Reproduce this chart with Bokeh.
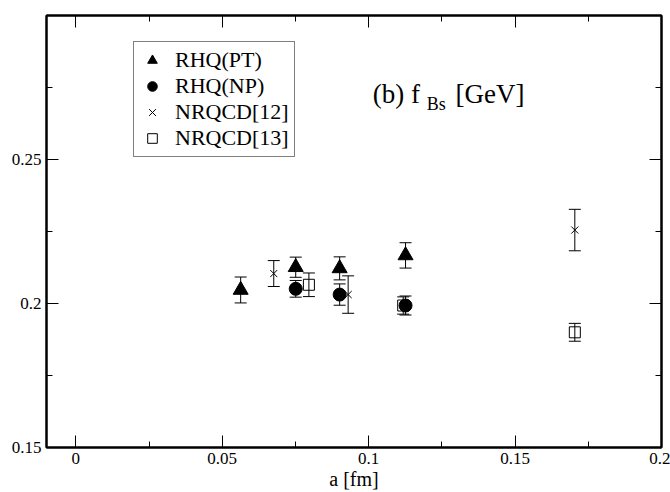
from bokeh.plotting import figure
from bokeh.models import (Range1d, SingleIntervalTicker, LinearAxis, CustomJSTickFormatter,
                          ColumnDataSource, Whisker, TeeHead, Legend, LegendItem, Label)
from bokeh.embed import file_html
from bokeh.resources import INLINE

# lattice spacing a [fm], f_Bs [GeV] and errors
rhq_pt_a = [0.0563, 0.0751, 0.0901, 0.1126]
rhq_pt_f = [0.2047, 0.2126, 0.2122, 0.2167]
rhq_pt_e = [0.0045, 0.0035, 0.0040, 0.0044]

rhq_np_a = [0.0751, 0.0901, 0.1126]
rhq_np_f = [0.2051, 0.2031, 0.1993]
rhq_np_e = [0.0029, 0.0037, 0.0033]

nrqcd12_a = [0.0676, 0.0930, 0.1704]
nrqcd12_f = [0.2104, 0.2031, 0.2255]
nrqcd12_e = [0.0045, 0.0065, 0.0072]

nrqcd13_a = [0.0796, 0.1118, 0.1704]
nrqcd13_f = [0.2065, 0.1993, 0.1900]
nrqcd13_e = [0.0041, 0.0030, 0.0031]

FONT = "Liberation Serif"

p = figure(width=670, height=492, output_backend="svg", toolbar_location=None,
           x_range=Range1d(-0.01, 0.2), y_range=Range1d(0.15, 0.3),
           min_border_left=46, min_border_right=9, min_border_top=15, min_border_bottom=45)
p.grid.visible = False
p.outline_line_color = "black"
p.outline_line_width = 2
p.background_fill_color = "white"

fmt = CustomJSTickFormatter(code="return String(Math.round(tick*1000)/1000);")


def style_axis(ax, labels=True):
    ax.axis_line_color = "black"
    ax.axis_line_width = 2
    ax.major_tick_in = 12
    ax.major_tick_out = 0
    ax.minor_tick_in = 6
    ax.minor_tick_out = 0
    ax.major_tick_line_color = "black"
    ax.minor_tick_line_color = "black"
    ax.major_tick_line_width = 1
    ax.minor_tick_line_width = 1
    if labels:
        ax.formatter = fmt
        ax.major_label_text_font = FONT
        ax.major_label_text_font_size = "17px"
        ax.major_label_text_color = "black"
        ax.major_label_standoff = 5
    else:
        ax.major_label_text_font_size = "0px"
        ax.major_label_standoff = 0


xt = SingleIntervalTicker(interval=0.05, num_minor_ticks=2)
yt = SingleIntervalTicker(interval=0.05, num_minor_ticks=2)
p.xaxis.ticker = xt
p.yaxis.ticker = yt
style_axis(p.xaxis[0])
style_axis(p.yaxis[0])
p.xaxis.axis_label = "a [fm]"
p.xaxis.axis_label_text_font = FONT
p.xaxis.axis_label_text_font_size = "20px"
p.xaxis.axis_label_text_font_style = "normal"
p.xaxis.axis_label_text_color = "black"
p.xaxis.axis_label_standoff = 1

top = LinearAxis(ticker=xt)
right = LinearAxis(ticker=yt)
style_axis(top, labels=False)
style_axis(right, labels=False)
p.add_layout(top, "above")
p.add_layout(right, "right")


def errbars(a, f, e):
    src = ColumnDataSource(dict(a=a, lo=[y - d for y, d in zip(f, e)],
                                hi=[y + d for y, d in zip(f, e)]))
    w = Whisker(base="a", lower="lo", upper="hi", source=src, level="glyph",
                line_color="black", line_width=1,
                upper_head=TeeHead(size=12, line_color="black", line_width=1),
                lower_head=TeeHead(size=12, line_color="black", line_width=1))
    p.add_layout(w)


for a, f, e in [(rhq_pt_a, rhq_pt_f, rhq_pt_e), (rhq_np_a, rhq_np_f, rhq_np_e),
                (nrqcd12_a, nrqcd12_f, nrqcd12_e), (nrqcd13_a, nrqcd13_f, nrqcd13_e)]:
    errbars(a, f, e)

r1 = p.scatter(rhq_pt_a, rhq_pt_f, marker="triangle", size=15, fill_color="black", line_color="black")
r2 = p.scatter(rhq_np_a, rhq_np_f, marker="circle", size=13, fill_color="black", line_color="black")
r3 = p.scatter(nrqcd12_a, nrqcd12_f, marker="x", size=10, line_color="black", line_width=1)
r4 = p.scatter(nrqcd13_a, nrqcd13_f, marker="square", size=11, fill_color=None,
               line_color="black", line_width=1)

legend = Legend(items=[LegendItem(label="RHQ(PT)", renderers=[r1]),
                       LegendItem(label="RHQ(NP)", renderers=[r2]),
                       LegendItem(label="NRQCD[12]", renderers=[r3]),
                       LegendItem(label="NRQCD[13]", renderers=[r4])],
                location=(87, 290))
legend.border_line_color = "black"
legend.border_line_width = 1
legend.background_fill_color = "white"
legend.background_fill_alpha = 1
legend.label_text_font = FONT
legend.label_text_font_size = "22px"
legend.label_text_color = "black"
legend.padding = 5
legend.spacing = 0
legend.margin = 0
legend.glyph_width = 26
legend.glyph_height = 24
legend.label_height = 24
legend.label_standoff = 10
p.add_layout(legend, "center")

# panel annotation: (b) f_Bs [GeV]
p.add_layout(Label(x=0.1014, y=0.2729, text="(b) f", text_font=FONT, text_font_size="27px",
                   text_color="black", text_baseline="alphabetic"))
p.add_layout(Label(x=0.1198, y=0.2694, text="Bs", text_font=FONT, text_font_size="18px",
                   text_color="black", text_baseline="alphabetic"))
p.add_layout(Label(x=0.1297, y=0.2729, text="[GeV]", text_font=FONT, text_font_size="27px",
                   text_color="black", text_baseline="alphabetic"))

open("out.html", "w").write(file_html(p, INLINE))
